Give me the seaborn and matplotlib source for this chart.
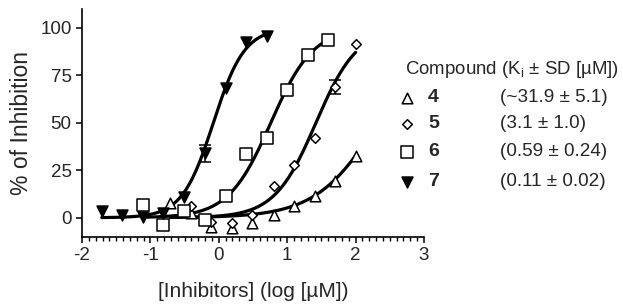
import numpy as np
import pandas as pd
import seaborn as sns
import matplotlib.pyplot as plt
from matplotlib.ticker import MultipleLocator

sns.set_theme(style="ticks")
plt.rcParams["font.family"] = ["Liberation Sans", "DejaVu Sans"]
plt.rcParams["mathtext.fontset"] = "custom"
plt.rcParams["mathtext.rm"] = "Liberation Sans"
plt.rcParams["mathtext.bf"] = "Liberation Sans:bold"
plt.rcParams["axes.unicode_minus"] = False

# concentrations as log [uM], responses as % inhibition
x4 = [-0.71, -0.41, -0.11, 0.19, 0.49, 0.80, 1.10, 1.40, 1.70, 2.00]
y4 = [7.6, 2.5, -5.0, -5.5, -3.0, 1.4, 6.2, 11.4, 19.5, 32.5]
e4 = [0, 0, 0, 0, 0, 0, 0, 0, 0, 0]

x5 = [-0.41, -0.11, 0.19, 0.49, 0.80, 1.10, 1.40, 1.70, 2.00]
y5 = [6.2, -2.5, -3.0, 1.4, 16.9, 27.8, 41.9, 68.8, 91.5]
e5 = [0, 0, 0, 0, 0, 0, 0, 3.5, 0]

x6 = [-1.11, -0.81, -0.51, -0.20, 0.10, 0.40, 0.70, 1.00, 1.30, 1.60]
y6 = [6.7, -3.7, 3.8, -1.2, 11.3, 33.5, 41.8, 67.4, 85.8, 93.4]
e6 = [0, 0, 0, 0, 0, 0, 0, 0, 0, 0]

x7 = [-1.71, -1.41, -1.11, -0.81, -0.51, -0.20, 0.10, 0.40, 0.70]
y7 = [3.6, 1.2, 0.3, 2.5, 10.8, 34.0, 68.2, 92.8, 95.8]
e7 = [0, 0, 0, 0, 0, 4.4, 0, 0, 0]

# sigmoidal fit parameters: bottom, top, logIC50, Hill slope
fit4 = [0, 100, 2.33, 0.95]
fit5 = [0, 100, 1.42, 1.43]
fit6 = [0, 100, 0.76, 1.40]
fit7 = [0, 100, -0.08, 1.90]

compounds = ["4", "5", "6", "7"]
ki_text = ["(~31.9 \u00b1 5.1)", "(3.1 \u00b1 1.0)", "(0.59 \u00b1 0.24)", "(0.11 \u00b1 0.02)"]

series = {
    "4": (x4, y4, e4, fit4),
    "5": (x5, y5, e5, fit5),
    "6": (x6, y6, e6, fit6),
    "7": (x7, y7, e7, fit7),
}
style = {
    "4": dict(marker="^", s=58, facecolor="white"),
    "5": dict(marker="D", s=24, facecolor="white"),
    "6": dict(marker="s", s=68, facecolor="white"),
    "7": dict(marker="v", s=62, facecolor="black"),
}

fig = plt.figure(figsize=(6.23, 3.08), dpi=100)
ax = fig.add_axes([0.1316, 0.2315, 0.5490, 0.7396])

for c in compounds:
    x, y, e, (bot, top, logic50, hill) = series[c]
    xs = np.linspace(min(x), max(x), 200)
    curve = pd.DataFrame({"x": xs,
                          "y": bot + (top - bot) / (1 + 10 ** ((logic50 - xs) * hill))})
    sns.lineplot(data=curve, x="x", y="y", ax=ax, color="black", lw=2.3)

for c in compounds:
    x, y, e, fit = series[c]
    pts = pd.DataFrame({"x": x, "y": y, "e": e})
    err = pts[pts.e > 0]
    if len(err):
        ax.errorbar(err.x, err.y, yerr=err.e, fmt="none", ecolor="black",
                    elinewidth=1.1, capsize=4, capthick=1.1, zorder=3)
    sns.scatterplot(data=pts, x="x", y="y", ax=ax, edgecolor="black",
                    linewidth=1.1, zorder=4, **style[c])

ax.set_xlim(-2, 3)
ax.set_ylim(-10, 110)
ax.xaxis.set_major_locator(MultipleLocator(1))
ax.xaxis.set_minor_locator(MultipleLocator(0.1))
ax.set_yticks([0, 25, 50, 75, 100])
ax.tick_params(which="major", length=4.5, width=1.1, labelsize=13.5, color="black", pad=3)
ax.tick_params(which="minor", length=2.8, width=1.0, color="black")
sns.despine(ax=ax)
for sp in ax.spines.values():
    sp.set_linewidth(1.2)
    sp.set_color("black")
ax.set_xlabel("[Inhibitors] (log [\u00b5M])", fontsize=15, labelpad=13)
ax.set_ylabel("% of Inhibition", fontsize=16.5, labelpad=5)

# key on the right, in figure pixels
lax = fig.add_axes([0, 0, 1, 1])
lax.set_xlim(0, 623)
lax.set_ylim(308, 0)
lax.axis("off")
lax.text(405, 70, "Compound (K$_\\mathrm{i}$ \u00b1 SD [\u00b5M])", fontsize=13.4, va="center")
row_y = [98, 124, 152, 182]
for c, txt, ry in zip(compounds, ki_text, row_y):
    st = style[c]
    lax.scatter([407], [ry], marker=st["marker"], s=st["s"], facecolor=st["facecolor"],
                edgecolor="black", linewidth=1.1)
    lax.text(428, ry, c, fontsize=14, fontweight="bold", va="center")
    lax.text(500, ry, txt, fontsize=13.6, va="center")

fig.savefig("out.png", dpi=100)
